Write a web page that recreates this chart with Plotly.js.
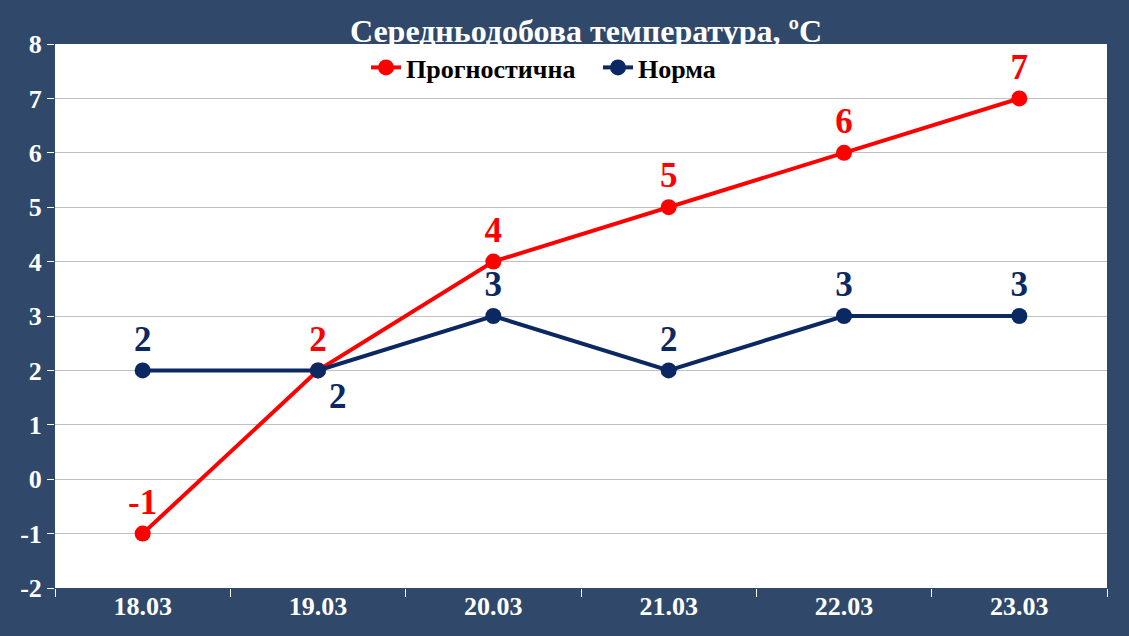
<!DOCTYPE html>
<html><head><meta charset="utf-8">
<script src="https://cdn.plot.ly/plotly-3.0.1.min.js"></script>
<style>html,body{margin:0;padding:0;background:#30496A;}#c{width:1129px;height:636px;}</style>
</head><body><div id="c"></div>
<script>
const categories = ["18.03","19.03","20.03","21.03","22.03","23.03"];
const forecast = [-1, 2, 4, 5, 6, 7];
const norm = [2, 2, 3, 2, 3, 3];
const yTickVals = [-2, -1, 0, 1, 2, 3, 4, 5, 6, 7, 8];
const yTickText = ["-2", "-1", "0", "1", "2", "3", "4", "5", "6", "7", "8"];
const forecastName = "Прогностична";
const normName = "Норма";
const titleText = "Середньодобова температура, ºC";

const RED = "#FF0000", NAVY = "#0C2862";
const serif = "Liberation Serif, Times New Roman, serif";

const traces = [
  {x: categories, y: forecast, name: forecastName, type: "scatter", mode: "lines+markers+text",
   line: {color: RED, width: 4}, marker: {color: RED, size: 16},
   text: forecast.map(v => String(v)), textposition: "top center",
   textfont: {family: serif, size: 35, color: RED, weight: "bold"}, cliponaxis: false},
  {x: categories, y: norm, name: normName, type: "scatter", mode: "lines+markers+text",
   line: {color: NAVY, width: 4}, marker: {color: NAVY, size: 16},
   text: norm.map(v => String(v)), textposition: norm.map((v,i)=> i===1 ? "bottom right" : "top center"),
   textfont: {family: serif, size: 35, color: NAVY, weight: "bold"}, cliponaxis: false}
];

const layout = {
  width: 1129, height: 636,
  paper_bgcolor: "#30496A", plot_bgcolor: "#FFFFFF",
  margin: {l: 55, r: 22, t: 44, b: 48},
  title: {text: titleText, font: {family: serif, size: 32, color: "#FFFFFF", weight: "bold"},
          x: 586/1129, xanchor: "center", y: 1 - 31/636, yanchor: "middle", yref: "container"},
  showlegend: true,
  legend: {orientation: "h", x: (366-55)/1052, xanchor: "left", y: 1.0, yanchor: "top",
           bgcolor: "rgba(0,0,0,0)", font: {family: serif, size: 26, color: "#000000", weight: "bold"},
           itemwidth: 30, entrywidth: 187, tracegroupgap: 0},
  xaxis: {type: "category", range: [-0.5, 5.5], tickson: "boundaries", ticks: "outside", ticklen: 8, tickcolor: "#FFFFFF",
          showgrid: false, showline: false, zeroline: false,
          tickfont: {family: serif, size: 26, color: "#FFFFFF", weight: "bold"}},
  yaxis: {range: [-2, 8], tickvals: yTickVals, ticktext: yTickText, ticks: "outside", ticklen: 7, tickcolor: "#FFFFFF",
          gridcolor: "#C0C0C0", gridwidth: 1, zeroline: false, showline: false,
          tickfont: {family: serif, size: 26, color: "#FFFFFF", weight: "bold"}}
};

Plotly.newPlot("c", traces, layout, {displayModeBar: false, responsive: false});
</script></body></html>
